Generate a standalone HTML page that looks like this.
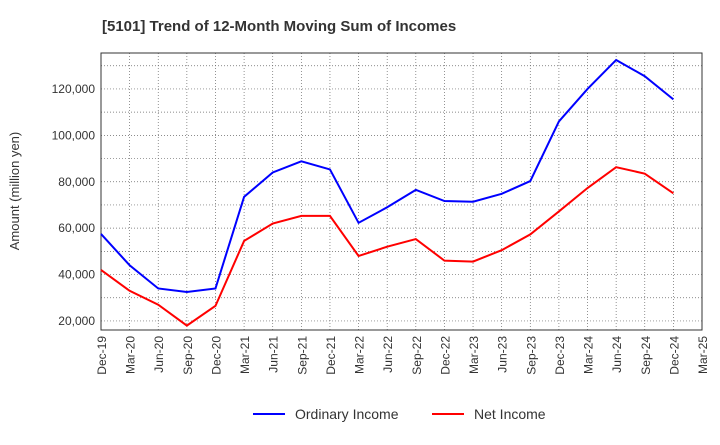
<!DOCTYPE html>
<html><head><meta charset="utf-8"><style>
body{margin:0;background:#fff;font-family:"Liberation Sans",sans-serif;}
</style></head><body>
<svg id="chart" width="720" height="440" xmlns="http://www.w3.org/2000/svg" font-family="Liberation Sans, sans-serif">
<text x="102" y="31" font-size="15" font-weight="bold" fill="#333">[5101]  Trend of 12-Month Moving Sum of Incomes</text>
<text transform="translate(19,191) rotate(-90)" text-anchor="middle" font-size="13" fill="#333">Amount (million yen)</text>
<g id="grid"></g><g id="axes"></g><g id="series"></g>
<g>
<line x1="253" y1="414" x2="285" y2="414" stroke="#0000ff" stroke-width="2"/>
<text x="295" y="419" font-size="14" fill="#333">Ordinary Income</text>
<line x1="432" y1="414" x2="464" y2="414" stroke="#ff0000" stroke-width="2"/>
<text x="474" y="419" font-size="14" fill="#333">Net Income</text>
</g>
</svg>
<script>
const categories=["Dec-19","Mar-20","Jun-20","Sep-20","Dec-20","Mar-21","Jun-21","Sep-21","Dec-21","Mar-22","Jun-22","Sep-22","Dec-22","Mar-23","Jun-23","Sep-23","Dec-23","Mar-24","Jun-24","Sep-24","Dec-24","Mar-25"];
const ordinaryIncome=[57500,44000,34000,32500,34000,73500,84000,88800,85300,62300,69000,76500,71700,71400,74800,80300,106000,120000,132500,125500,115500];
const netIncome=[42000,33000,27000,18000,26500,54500,62000,65300,65300,48000,52000,55300,46000,45600,50500,57300,67200,77300,86300,83500,75000];
const yTicks=[20000,40000,60000,80000,100000,120000];
const yGrid=[20000,30000,40000,50000,60000,70000,80000,90000,100000,110000,120000,130000];
const L=101,R=702,T=53,B=330,yMin=16100,yMax=135500;
const xs=i=>L+(R-L)*i/(categories.length-1);
const ys=v=>B-(v-yMin)/(yMax-yMin)*(B-T);
const NS="http://www.w3.org/2000/svg";
function mk(t,a,p){const e=document.createElementNS(NS,t);for(const k in a)e.setAttribute(k,a[k]);p.appendChild(e);return e;}
const grid=document.getElementById('grid'),axes=document.getElementById('axes'),ser=document.getElementById('series');
categories.forEach((c,i)=>{const l=mk('line',{x1:xs(i),x2:xs(i),y1:T,y2:B,stroke:'#666','stroke-width':0.7,'stroke-dasharray':'1,2'},grid);


const t=mk('text',{transform:`translate(${xs(i)+5},${B+6}) rotate(-90)`,'text-anchor':'end','font-size':12,fill:'#333'},axes);t.textContent=c;

});
yGrid.forEach(v=>{const l=mk('line',{x1:L,x2:R,y1:ys(v),y2:ys(v),stroke:'#666','stroke-width':0.7,'stroke-dasharray':'1,2'},grid);

});
yTicks.forEach(v=>{const t=mk('text',{x:L-6,y:ys(v)+4,'text-anchor':'end','font-size':12,fill:'#333'},axes);t.textContent=v.toLocaleString('en-US');

});
const fr=mk('rect',{x:L,y:T,width:R-L,height:B-T,fill:'none',stroke:'#333','stroke-width':1},axes);


function line(d,col,name){const p=mk('polyline',{points:d.map((v,i)=>xs(i)+','+ys(v)).join(' '),fill:'none',stroke:col,'stroke-width':2},ser);

}
line(ordinaryIncome,'#0000ff','ordinary-income-line');
line(netIncome,'#ff0000','net-income-line');
</script>
</body></html>
